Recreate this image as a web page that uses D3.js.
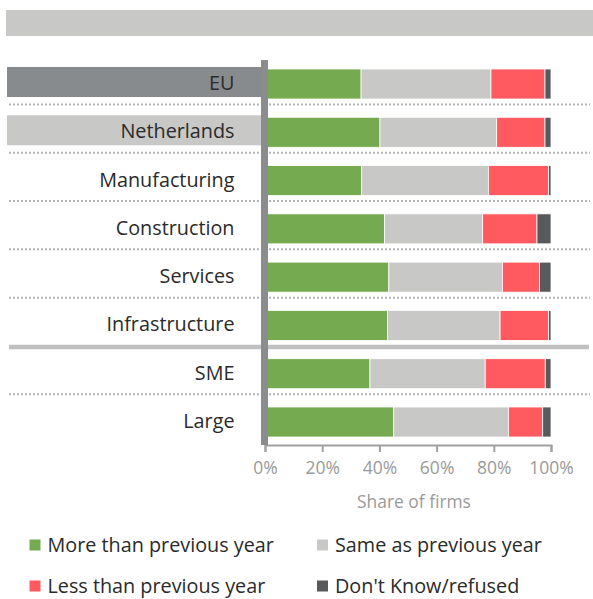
<html>
<head>
<script src="https://d3js.org/d3.v7.min.js"></script>
<style>
  body { margin: 0; background: #fff; }
  svg text { font-family: "Open Sans", sans-serif; }
</style>
</head>
<body>
<script>
// data (percent of firms)
var categories = ["EU", "Netherlands", "Manufacturing", "Construction", "Services", "Infrastructure", "SME", "Large"];
var more    = [33.6, 40.2, 33.8, 41.8, 43.3, 42.8, 36.7, 44.9];
var same    = [45.4, 40.8, 44.3, 34.3, 39.7, 39.4, 40.3, 40.2];
var less    = [18.9, 16.9, 21.0, 19.0, 13.0, 16.9, 21.0, 12.0];
var dontKnow = [2.1, 2.1, 0.9, 4.9, 4.0, 0.9, 2.0, 2.9];
var seriesNames = ["More than previous year", "Same as previous year", "Less than previous year", "Don't Know/refused"];
var tickValues = [0, 20, 40, 60, 80, 100];

var colors = ["#75aa50", "#c8c8c6", "#ff5a5f", "#58595b"];

var width = 593, height = 599;

var svg = d3.select("body").append("svg")
  .attr("width", width)
  .attr("height", height);

var x = d3.scaleLinear().domain([0, 100]).range([265, 551]);
var y = d3.scalePoint().domain(categories).range([84, 422]);
var barH = 30;

// top grey band
svg.append("rect")
  .attr("x", 6).attr("y", 10).attr("width", 587).attr("height", 26)
  .attr("fill", "#c8c8c6");

// build stacked table
var table = categories.map(function(c, i) {
  return { cat: c, more: more[i], same: same[i], less: less[i], dk: dontKnow[i] };
});
var stack = d3.stack().keys(["more", "same", "less", "dk"])(table);

// label backgrounds for EU and Netherlands
svg.append("rect")
  .attr("x", 7).attr("y", y("EU") - 17).attr("width", 254).attr("height", 30)
  .attr("fill", "#888b8e");
svg.append("rect")
  .attr("x", 7).attr("y", y("Netherlands") - 17).attr("width", 254).attr("height", 30)
  .attr("fill", "#c8c8c6");

// separators
categories.forEach(function(c, i) {
  if (i == categories.length - 1) return;
  var yy = y(c) + barH / 2 + 5.5;
  if (c == "Infrastructure") {
    svg.append("line")
      .attr("x1", 9).attr("x2", 589).attr("y1", yy + 1).attr("y2", yy + 1)
      .attr("stroke", "#c0c0c0").attr("stroke-width", 4.5);
  } else {
    svg.append("line")
      .attr("x1", 9).attr("x2", 590).attr("y1", yy).attr("y2", yy)
      .attr("stroke", "#b4b4b4").attr("stroke-width", 2)
      .attr("stroke-dasharray", "2,2");
  }
});

// bars
svg.selectAll("g.series")
  .data(stack)
  .enter().append("g")
  .attr("class", "series")
  .attr("fill", function(d, i) { return colors[i]; })
  .selectAll("rect")
  .data(function(d) { return d; })
  .enter().append("rect")
  .attr("x", function(d) { return x(d[0]); })
  .attr("width", function(d) { return x(d[1]) - x(d[0]); })
  .attr("y", function(d) { return y(d.data.cat) - barH / 2; })
  .attr("height", barH)
  .attr("stroke", "#ffffff")
  .attr("stroke-width", 0.8);

// category labels
svg.selectAll("text.cat")
  .data(categories)
  .enter().append("text")
  .attr("class", "cat")
  .attr("x", 234.5)
  .attr("y", function(d) { return y(d) - 1; })
  .attr("dy", "0.35em")
  .attr("text-anchor", "end")
  .attr("fill", "#2a2a2a")
  .style("font-size", "19.8px")
  .text(function(d) { return d; });

// x axis
var xAxis = d3.axisBottom(x)
  .tickValues(tickValues)
  .tickSize(7)
  .tickPadding(10)
  .tickFormat(function(d) { return d + "%"; });
var ax = svg.append("g")
  .attr("transform", "translate(0,445)")
  .call(xAxis);
ax.select(".domain").attr("stroke", "#a0a0a0").attr("stroke-width", 2);
ax.selectAll(".tick line").attr("stroke", "#a0a0a0").attr("stroke-width", 2);
ax.selectAll(".tick text")
  .attr("fill", "#9a9a9a")
  .style("font-size", "17.5px")
  .style("font-family", "'Open Sans', sans-serif");

svg.append("text")
  .attr("x", 414).attr("y", 502)
  .attr("dy", "0.35em")
  .attr("text-anchor", "middle")
  .attr("fill", "#9a9a9a")
  .style("font-size", "17.4px")
  .text("Share of firms");

// thick vertical axis line
svg.append("rect")
  .attr("x", 261).attr("y", 60).attr("width", 7).attr("height", 385)
  .attr("fill", "#8a8c8e");

// legend
var legPos = [[29.5, 545], [317, 545], [29.5, 586], [317, 586]];
seriesNames.forEach(function(name, i) {
  var g = svg.append("g").attr("transform", "translate(" + legPos[i][0] + "," + legPos[i][1] + ")");
  g.append("rect")
    .attr("x", 0).attr("y", -5.5).attr("width", 11).attr("height", 11)
    .attr("fill", colors[i]);
  g.append("text")
    .attr("x", 18).attr("y", 0).attr("dy", "0.35em")
    .attr("fill", "#2a2a2a")
    .style("font-size", "19.8px")
    .text(name);
});
</script>
</body>
</html>
